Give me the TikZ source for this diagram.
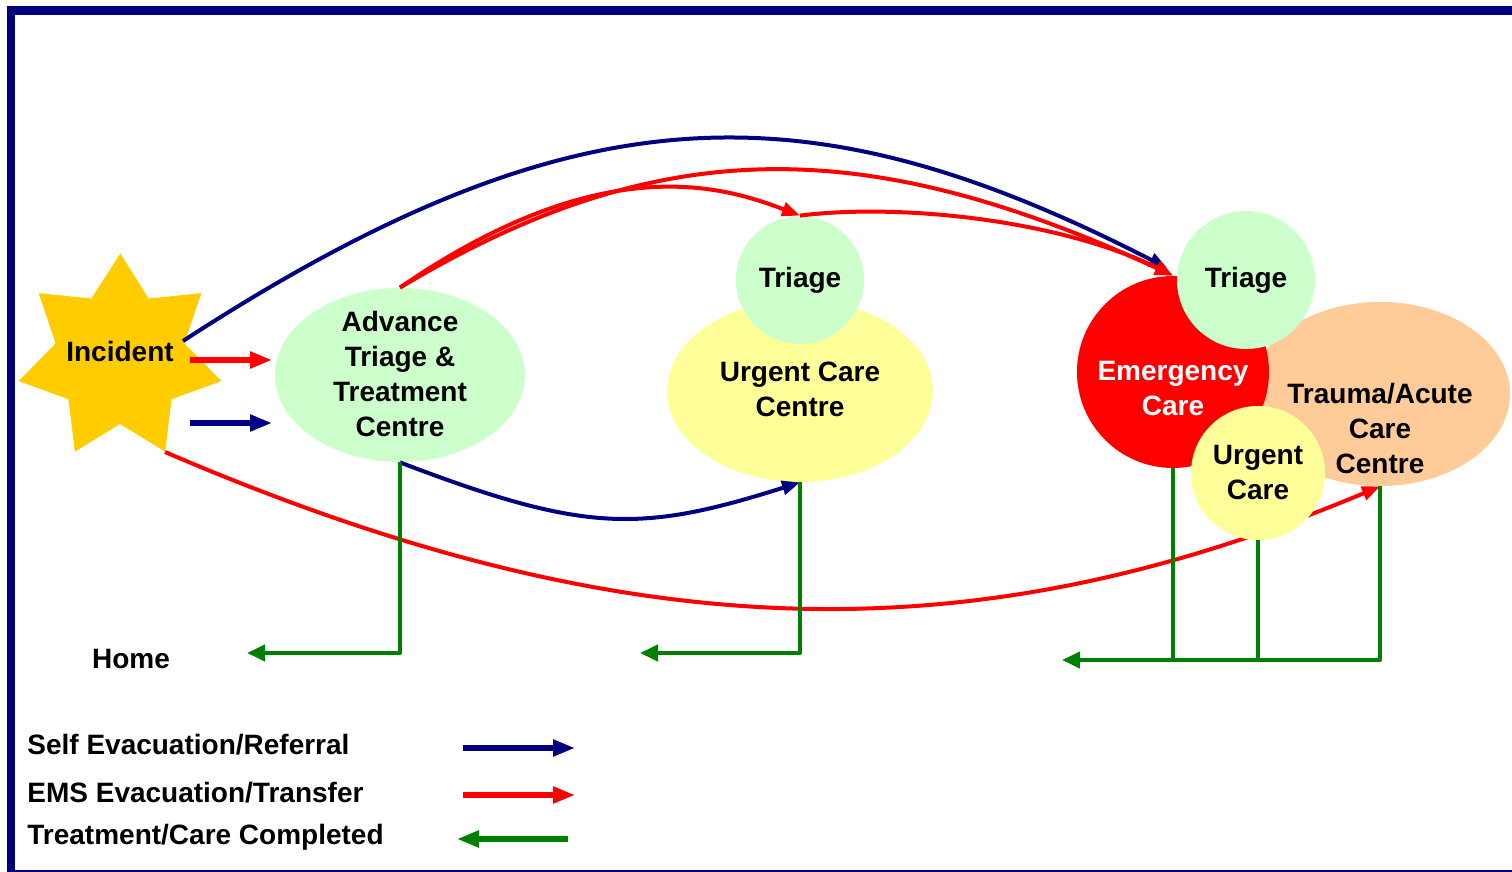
\documentclass[tikz,border=0pt]{standalone}
\usepackage{fontspec}
\setmainfont{Liberation Sans}
\usetikzlibrary{arrows.meta,shapes.geometric}
\definecolor{navyline}{HTML}{000080}
\definecolor{emsred}{HTML}{FF0000}
\definecolor{donegreen}{HTML}{008000}
\definecolor{starfill}{HTML}{FFCC00}
\definecolor{palegreen}{HTML}{CCFFCC}
\definecolor{paleyellow}{HTML}{FFFF99}
\definecolor{peach}{HTML}{FFCC99}
\begin{document}
\begin{tikzpicture}[x=0.5pt,y=-0.5pt,
  lbl/.style={font=\fontsize{14}{17.5}\selectfont\bfseries, align=center, inner sep=0pt},
  blob/.style={ellipse, inner sep=0pt, draw=none},
  disc/.style={circle, inner sep=0pt, draw=none},
  flow/.style={line width=2pt},
  thick flow/.style={line width=2.6pt},
  tipc/.style={-{Triangle[length=9pt,width=7pt]}},
  tipl/.style={-{Triangle[length=11pt,width=8pt]}},
  tipg/.style={-{Triangle[length=9pt,width=8pt]}}]
\useasboundingbox (0,0) rectangle (1512,872);
\fill[white] (0,0) rectangle (1512,872);

% frame
\draw[navyline, line width=4.3pt, line join=miter] (1512,10.5) -- (11,10.5) -- (11,872);
\draw[navyline, line width=1pt] (7,871) -- (1512,871);

% incident star
\fill[starfill, shift={(120,358)}] (-90:105)
  \foreach \k in {1,...,7}{ -- ({-90+51.4286*\k-25.7143}:66) -- ({-90+51.4286*\k}:104) } -- cycle;
\node[lbl] (incident) at (120,351) {Incident};
\coordinate (incNE) at (183,341);
\coordinate (incSE) at (165,452);

% care facilities
\node[blob, fill=palegreen, minimum width=125pt, minimum height=87pt] (advance) at (400,375) {};
\node[blob, fill=paleyellow, minimum width=133pt, minimum height=91pt] (ucc) at (800,391) {};
\node[disc, fill=palegreen, minimum size=64pt] (triageM) at (800,280) {};
\node[blob, fill=peach, minimum width=130pt, minimum height=92pt] (trauma) at (1380,394) {};
\node[disc, fill=emsred, minimum size=96pt] (emerg) at (1173,372) {};
\node[disc, fill=palegreen, minimum size=69pt] (triageR) at (1246,280) {};

% EMS transfer straight to trauma care
\draw[flow, emsred, tipc] (incSE) .. controls (635,654) and (980,654) .. (trauma.south);

\node[disc, fill=paleyellow, minimum size=67pt] (urgent) at (1258,473) {};

% labels
\node[lbl] (advanceText) at (400,374) {Advance\\Triage \&\\Treatment\\Centre};
\node[lbl] (uccText) at (800,389) {Urgent Care\\Centre};
\node[lbl] (triageMText) at (800,280) {Triage};
\node[lbl] (triageRText) at (1246,280) {Triage};
\node[lbl, text=white] (emergText) at (1173,389) {Emergency\\Care};
\node[lbl] (traumaText) at (1380,428) {Trauma/Acute\\Care\\Centre};
\node[lbl] (urgentText) at (1258,473) {Urgent\\Care};
\node[lbl] (home) at (131,659) {Home};

% short arrows out of the incident
\coordinate (emsA) at (190,360);
\coordinate (emsB) at (272,360);
\coordinate (selfA) at (190,423);
\coordinate (selfB) at (272,423);
\draw[thick flow, emsred, tipl] (emsA) -- (emsB);
\draw[thick flow, navyline, tipl] (selfA) -- (selfB);

% long transfers
\coordinate (selfEnd) at (1167,268);
\draw[flow, navyline, tipc] (incNE) .. controls (577,85) and (810,85) .. (selfEnd);
\draw[flow, emsred, tipc] (advance.north) .. controls (658,133) and (864,133) .. (emerg.north);
\draw[flow, emsred, tipc] (advance.north) .. controls (600,150) and (720,185) .. (triageM.north);
\draw[flow, emsred, tipc] (triageM.north) .. controls (900,203) and (1060,220) .. (emerg.north);
\draw[flow, navyline, tipc] (advance.south) .. controls (585,533) and (640,533) .. (ucc.south);

% discharge home
\coordinate (home1) at (247,653);
\coordinate (home2) at (640,653);
\coordinate (home3) at (1062,660);
\draw[flow, donegreen, tipg, line join=round] (advance.south) |- (home1);
\draw[flow, donegreen, tipg, line join=round] (ucc.south) |- (home2);
\draw[flow, donegreen, tipg, line join=round] (trauma.south) |- (home3);
\draw[flow, donegreen] (emerg.south) -- (emerg.south |- home3);
\draw[flow, donegreen] (urgent.south) -- (urgent.south |- home3);

% legend
\node[lbl, anchor=west] (legSelf) at (27,745) {Self Evacuation/Referral};
\node[lbl, anchor=west] (legEms) at (27,793) {EMS Evacuation/Transfer};
\node[lbl, anchor=west] (legDone) at (27,837) {Treatment/Care Completed};
\coordinate (lsA) at (463,748);
\coordinate (lsB) at (575,748);
\coordinate (leA) at (463,795);
\coordinate (leB) at (575,795);
\coordinate (lgA) at (568,839);
\coordinate (lgB) at (457,839);
\draw[thick flow, navyline, tipl] (lsA) -- (lsB);
\draw[thick flow, emsred, tipl] (leA) -- (leB);
\draw[thick flow, donegreen, tipl] (lgA) -- (lgB);
\end{tikzpicture}
\end{document}
